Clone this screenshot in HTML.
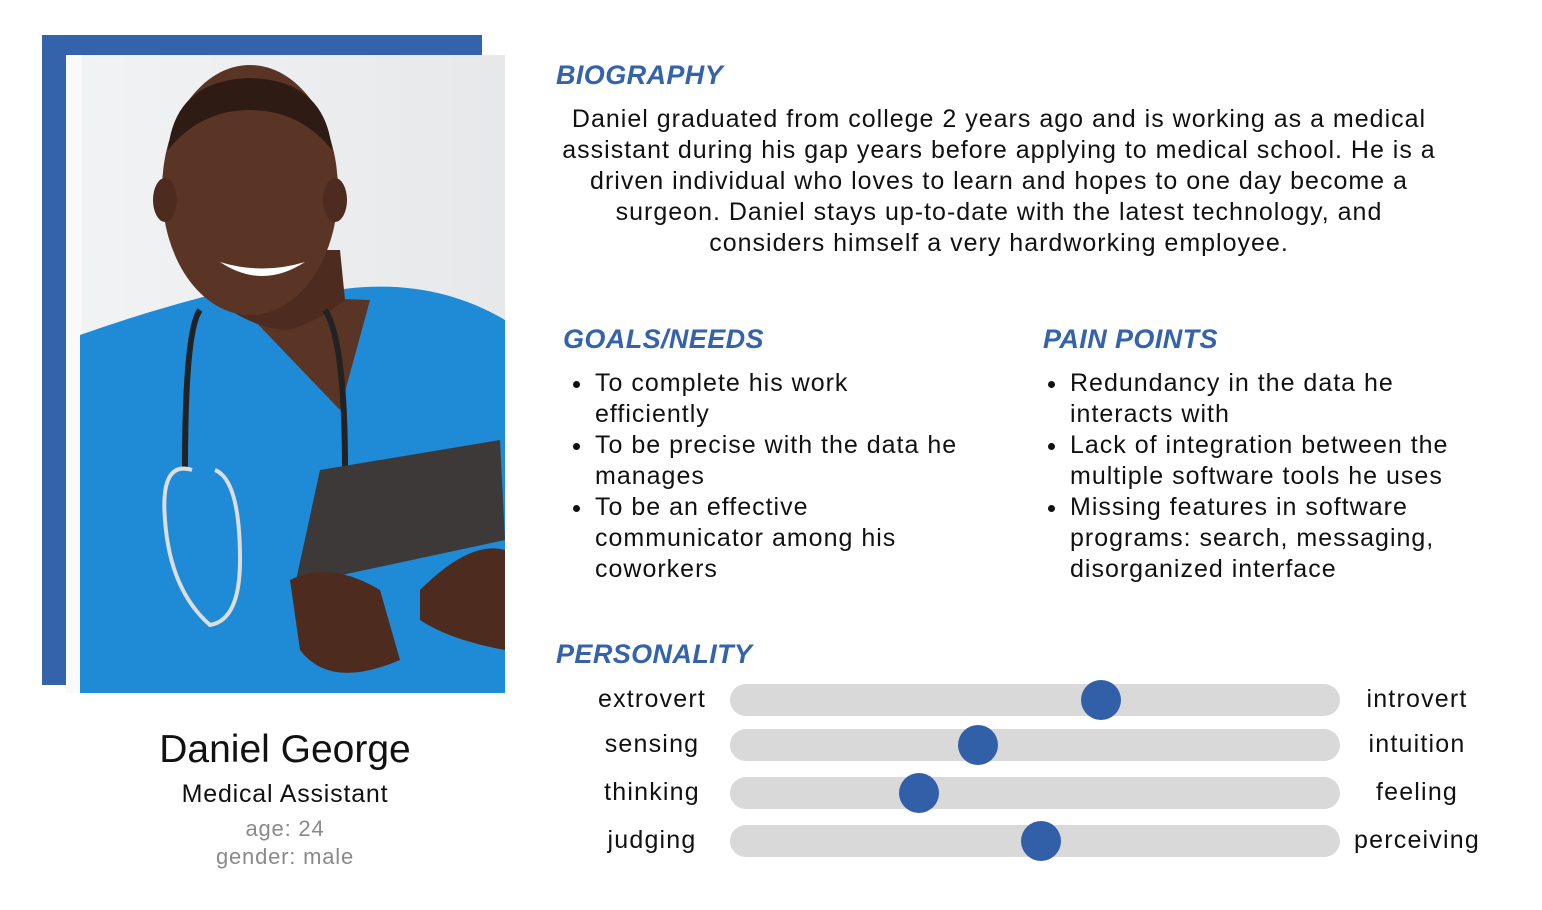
<!DOCTYPE html>
<html><head><meta charset="utf-8">
<style>
body{margin:0;width:1542px;height:910px;background:#fff;font-family:"Liberation Sans",sans-serif;position:relative;overflow:hidden;color:#111}
.abs{position:absolute}
h2{margin:0;position:absolute;font-size:27px;font-style:italic;font-weight:bold;color:#3462ab;letter-spacing:0.4px}
.bio{left:548px;top:104px;width:902px;text-align:center;font-size:25px;letter-spacing:1px;line-height:31px;white-space:nowrap}
ul{margin:0;padding:0;list-style:none;position:absolute;font-size:25px;letter-spacing:1px;line-height:31px;white-space:nowrap}
li{position:relative;padding-left:0}
li:before{content:"";position:absolute;left:-22px;top:13px;width:7px;height:7px;border-radius:50%;background:#111}
.lbl{position:absolute;font-size:25px;letter-spacing:1.2px;text-align:center;width:160px}
</style></head><body>
<div class="abs" style="left:42px;top:35px;width:440px;height:650px;background:#3462ab"></div>
<svg class="abs" style="left:66px;top:55px" width="439" height="638" viewBox="66 55 439 638">
<defs><linearGradient id="bg" x1="0" x2="1"><stop offset="0" stop-color="#f2f3f4"/><stop offset="1" stop-color="#e6e8ea"/></linearGradient></defs>
<rect x="66" y="55" width="439" height="638" fill="url(#bg)"/>
<rect x="66" y="55" width="16" height="638" fill="#fafafa"/>
<path d="M80 335 Q150 310 230 290 L310 295 Q420 270 505 320 L505 693 L80 693 Z" fill="#1f8ad6"/>
<path d="M230 295 L340 410 L370 300 Z" fill="#5a3526"/>
<path d="M215 300 Q255 330 290 330 Q320 320 345 300 L340 250 L225 250 Z" fill="#4d2c1f"/>
<ellipse cx="250" cy="190" rx="88" ry="125" fill="#5a3526"/>
<path d="M168 150 Q175 80 250 78 Q325 80 332 150 Q300 110 250 110 Q200 110 168 150Z" fill="#2e1b14"/>
<ellipse cx="165" cy="200" rx="12" ry="22" fill="#4d2c1f"/><ellipse cx="335" cy="200" rx="12" ry="22" fill="#4d2c1f"/>
<path d="M220 262 Q262 290 305 262 Q262 275 220 262Z" fill="#fff"/>
<path d="M200 310 Q185 330 185 470 M325 310 Q345 340 345 470" stroke="#222" stroke-width="6" fill="none"/>
<path d="M192 470 Q160 460 165 520 Q170 590 210 625 Q240 620 240 560 Q240 480 215 470" stroke="#ddd" stroke-width="4" fill="none"/>
<path d="M320 470 L500 440 L505 540 L295 585 Z" fill="#3d3938"/>
<path d="M290 580 Q330 560 380 590 L400 660 Q330 690 300 650Z" fill="#4d2c1f"/>
<path d="M420 590 Q470 540 505 550 L505 650 Q450 640 420 620Z" fill="#4d2c1f"/>
</svg>
<div class="abs" style="left:85px;top:728px;width:400px;text-align:center;font-size:39px">Daniel George</div>
<div class="abs" style="left:85px;top:780px;width:400px;text-align:center;font-size:25px;letter-spacing:0.8px">Medical Assistant</div>
<div class="abs" style="left:85px;top:816px;width:400px;text-align:center;font-size:22px;letter-spacing:0.8px;color:#8a8a8a">age: 24</div>
<div class="abs" style="left:85px;top:844px;width:400px;text-align:center;font-size:22px;letter-spacing:0.8px;color:#8a8a8a">gender: male</div>

<h2 style="left:556px;top:60px">BIOGRAPHY</h2>
<div class="abs bio">Daniel graduated from college 2 years ago and is working as a medical<br>assistant during his gap years before applying to medical school. He is a<br>driven individual who loves to learn and hopes to one day become a<br>surgeon. Daniel stays up-to-date with the latest technology, and<br>considers himself a very hardworking employee.</div>

<h2 style="left:563px;top:324px">GOALS/NEEDS</h2>
<ul style="left:595px;top:368px">
<li>To complete his work<br>efficiently</li>
<li>To be precise with the data he<br>manages</li>
<li>To be an effective<br>communicator among his<br>coworkers</li>
</ul>
<h2 style="left:1043px;top:324px">PAIN POINTS</h2>
<ul style="left:1070px;top:368px">
<li>Redundancy in the data he<br>interacts with</li>
<li>Lack of integration between the<br>multiple software tools he uses</li>
<li>Missing features in software<br>programs: search, messaging,<br>disorganized interface</li>
</ul>

<h2 style="left:556px;top:639px">PERSONALITY</h2>
<div id="sliders"></div>
<script>
const leftLabels=["extrovert","sensing","thinking","judging"];
const rightLabels=["introvert","intuition","feeling","perceiving"];
const values=[0.608,0.407,0.31,0.51];
const rowY=[700,745,793,841];
const X0=730,W=610;
const c=document.getElementById('sliders');
function xScale(v){return X0+v*W;}
values.forEach((v,i)=>{
  const y=rowY[i];
  const l=document.createElement('div');l.className='lbl';
  
  
  l.style.left='572px';l.style.top=(y-15)+'px';l.textContent=leftLabels[i];c.appendChild(l);
  const r=document.createElement('div');r.className='lbl';
  
  
  r.style.left='1337px';r.style.top=(y-15)+'px';r.textContent=rightLabels[i];c.appendChild(r);
  const t=document.createElement('div');t.className='abs';
  
  
  t.style.cssText=`left:${X0}px;top:${y-16}px;width:${W}px;height:32px;border-radius:16px;background:#d9d9d9`;c.appendChild(t);
  const k=document.createElement('div');k.className='abs';
  
  
  k.style.cssText=`left:${xScale(v)-20}px;top:${y-20}px;width:40px;height:40px;border-radius:50%;background:#3260a8`;c.appendChild(k);
});
</script>
</body></html>
